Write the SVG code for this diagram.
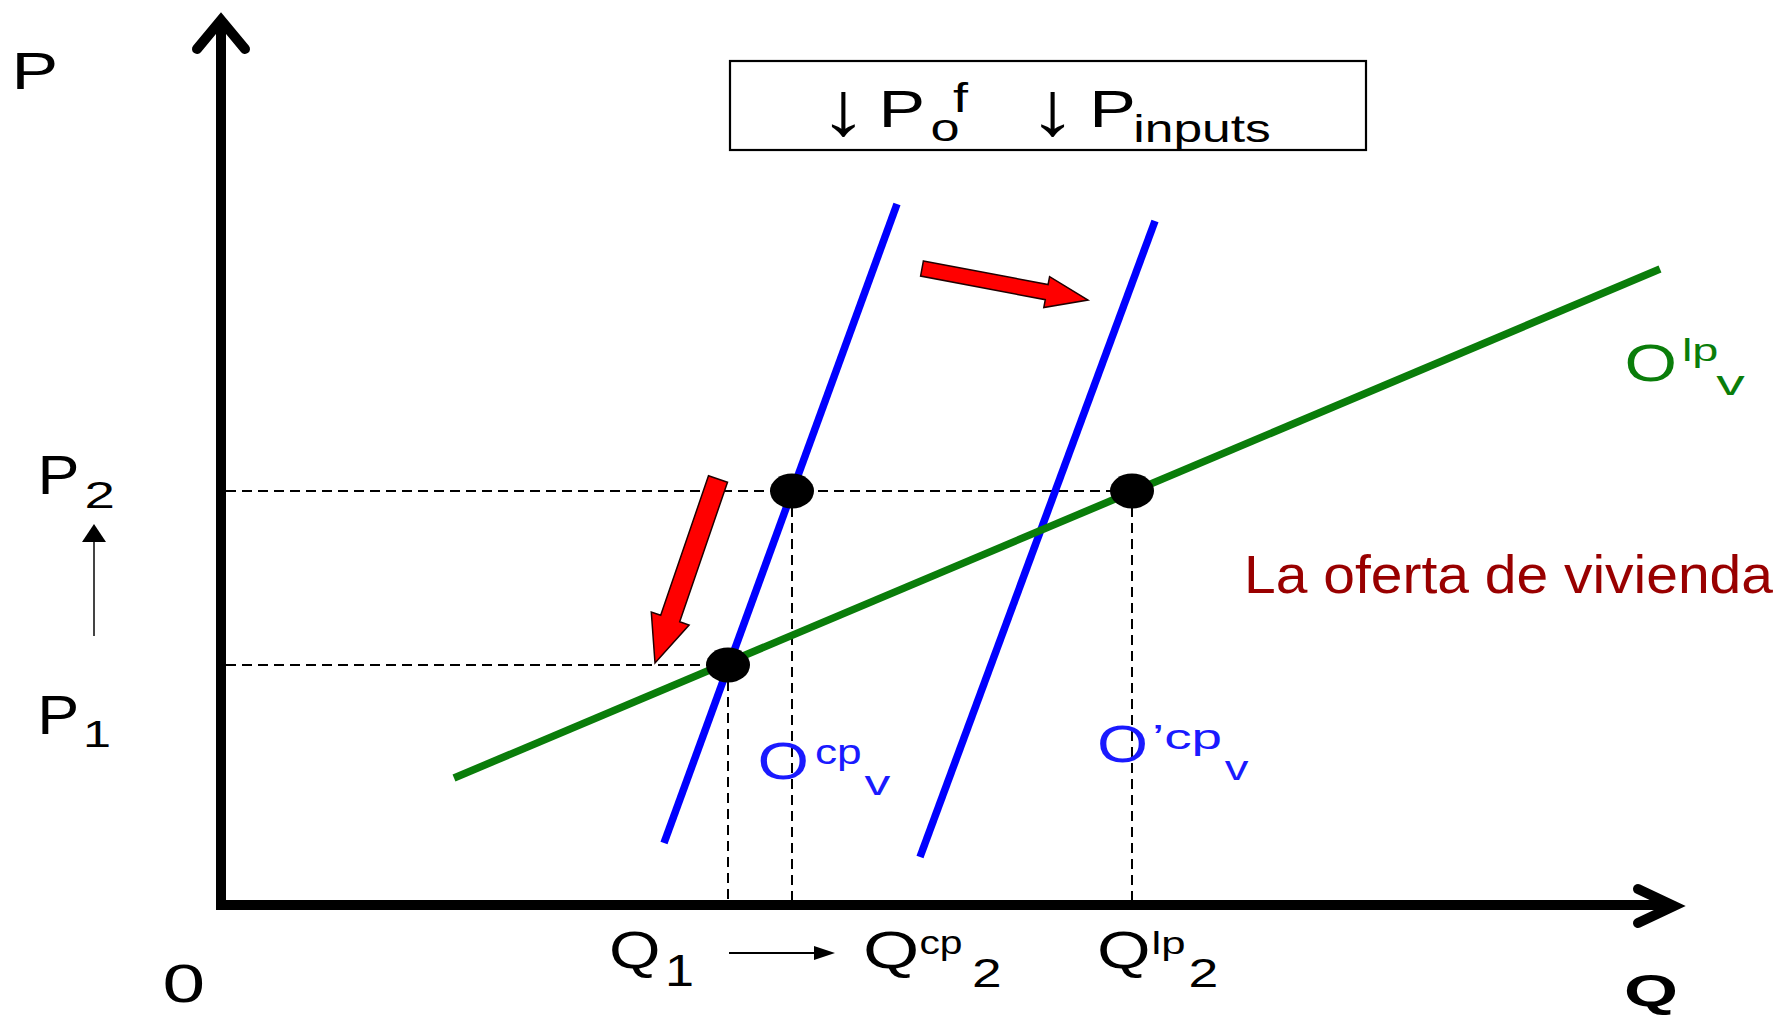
<svg xmlns="http://www.w3.org/2000/svg" width="1781" height="1017" viewBox="0 0 1781 1017">
<style>
  text { font-family: "Liberation Sans", Arial, sans-serif; }
  .k { fill: #000; }
  .b { fill: #1a1aff; }
  .g { fill: #0a7d0a; }
  .r { fill: #990000; }
  .axis { stroke: #000; stroke-width: 10; fill: none; }
  .dash { stroke: #000; stroke-width: 2; stroke-dasharray: 10 6; fill: none; }
  .blue { stroke: #0000ff; stroke-width: 7.5; fill: none; }
  .green { stroke: #0a7d0a; stroke-width: 7.5; fill: none; }
  .dot { fill: #000; }
  .red { fill: #ff0000; stroke: #200000; stroke-width: 1.5; stroke-linejoin: miter; }
  .thin { stroke: #000; stroke-width: 2.2; fill: none; }
</style>

<g id="axes">
  <path class="axis" d="M221,905 L221,24" />
  <path class="axis" d="M197,49 L221,20 L245,49" stroke-linejoin="miter" stroke-linecap="round" />
  <path class="axis" d="M216,905 L1672,905" />
  <path class="axis" d="M1638,889 L1674,906 L1638,923" stroke-linejoin="miter" stroke-linecap="round" />
</g>

<g id="connectors">
  <path class="dash" d="M226,491 L1132,491" />
  <path class="dash" d="M226,665 L728,665" />
  <path class="dash" d="M728,665 L728,900" />
  <path class="dash" d="M792,491 L792,900" />
  <path class="dash" d="M1132,491 L1132,900" />
</g>

<g id="curves">
  <line id="ocp" class="blue" x1="897" y1="204" x2="664" y2="843" />
  <line id="ocp2" class="blue" x1="1155" y1="221" x2="920" y2="857" />
  <line id="olp" class="green" x1="454" y1="778" x2="1660" y2="269" />
</g>

<g id="points">
  <ellipse class="dot" cx="792" cy="491" rx="22" ry="17.5" />
  <ellipse class="dot" cx="1132" cy="491" rx="22" ry="17.5" />
  <ellipse class="dot" cx="728" cy="665" rx="22" ry="17.5" />
</g>

<g id="shift-arrows">
  <polygon class="red" points="923.4,260.9 1048.1,284.5 1049.6,276.6 1088,300 1043.8,307.6 1045.3,299.7 920.6,276.1" />
  <polygon class="red" points="708.5,475.8 660.7,615.3 651.3,612 655,663 689.1,625 679.7,621.7 727.5,482.2" />
</g>

<g id="small-arrows">
  <path d="M94,636 L94,540" stroke="#444" stroke-width="2" fill="none" />
  <polygon points="94,524 82,542 106,542" fill="#000" />
  <path class="thin" d="M729,953 L816,953" />
  <polygon points="835,953 814,946 814,960" fill="#000" />
</g>

<g id="box">
  <rect x="730" y="61" width="636" height="89" fill="none" stroke="#000" stroke-width="2.2" />
  <text class="k" x="819.3" y="134.7" font-size="76" textLength="48.8" lengthAdjust="spacingAndGlyphs">↓</text>
  <text class="k" x="878.6" y="126.7" font-size="51" textLength="46.7" lengthAdjust="spacingAndGlyphs">P</text>
  <text class="k" x="930.6" y="141" font-size="39" textLength="29.1" lengthAdjust="spacingAndGlyphs">o</text>
  <text class="k" x="953" y="111.7" font-size="41" textLength="15" lengthAdjust="spacingAndGlyphs">f</text>
  <text class="k" x="1028.5" y="134.7" font-size="76" textLength="48.8" lengthAdjust="spacingAndGlyphs">↓</text>
  <text class="k" x="1089.2" y="126.7" font-size="51" textLength="46.7" lengthAdjust="spacingAndGlyphs">P</text>
  <text class="k" x="1133.3" y="141.7" font-size="38.5" textLength="137.6" lengthAdjust="spacingAndGlyphs">inputs</text>
</g>

<g id="label-P">
  <text class="k" x="11.6" y="89" font-size="52" textLength="46.7" lengthAdjust="spacingAndGlyphs">P</text>
</g>
<g id="label-P2">
  <text class="k" x="37.5" y="494" font-size="55" textLength="42" lengthAdjust="spacingAndGlyphs">P</text>
  <text class="k" x="84.4" y="508" font-size="36" textLength="30.4" lengthAdjust="spacingAndGlyphs">2</text>
</g>
<g id="label-P1">
  <text class="k" x="37.2" y="734" font-size="55" textLength="42" lengthAdjust="spacingAndGlyphs">P</text>
  <text class="k" x="83" y="747" font-size="36" textLength="28" lengthAdjust="spacingAndGlyphs">1</text>
</g>
<g id="label-0">
  <text class="k" x="162.6" y="1002" font-size="54" textLength="42.6" lengthAdjust="spacingAndGlyphs">0</text>
</g>
<g id="label-Q1">
  <text class="k" x="609" y="968" font-size="52" textLength="51.5" lengthAdjust="spacingAndGlyphs">Q</text>
  <text class="k" x="665" y="986" font-size="44" textLength="29" lengthAdjust="spacingAndGlyphs">1</text>
</g>
<g id="label-Qcp2">
  <text class="k" x="863.1" y="968" font-size="52" textLength="56.3" lengthAdjust="spacingAndGlyphs">Q</text>
  <text class="k" x="919.4" y="954" font-size="33" textLength="43.1" lengthAdjust="spacingAndGlyphs">cp</text>
  <text class="k" x="971.9" y="986.7" font-size="40" textLength="29.6" lengthAdjust="spacingAndGlyphs">2</text>
</g>
<g id="label-Qlp2">
  <text class="k" x="1097" y="968" font-size="52" textLength="53.6" lengthAdjust="spacingAndGlyphs">Q</text>
  <text class="k" x="1151.6" y="954" font-size="31" textLength="34" lengthAdjust="spacingAndGlyphs">lp</text>
  <text class="k" x="1188.4" y="986.7" font-size="40" textLength="29.8" lengthAdjust="spacingAndGlyphs">2</text>
</g>
<g id="label-Q">
  <text class="k" x="1624" y="1006" font-size="44" font-weight="bold" textLength="54" lengthAdjust="spacingAndGlyphs">Q</text>
</g>
<g id="label-Ocp">
  <text class="b" x="757.5" y="779" font-size="52" textLength="51.5" lengthAdjust="spacingAndGlyphs">O</text>
  <text class="b" x="814.9" y="764" font-size="35" textLength="46.7" lengthAdjust="spacingAndGlyphs">cp</text>
  <text class="b" x="864.6" y="795" font-size="35" textLength="25.8" lengthAdjust="spacingAndGlyphs">v</text>
</g>
<g id="label-Ocp2">
  <text class="b" x="1096.9" y="762" font-size="52" textLength="51.1" lengthAdjust="spacingAndGlyphs">O</text>
  <text class="b" x="1152" y="749" font-size="35" textLength="70" lengthAdjust="spacingAndGlyphs">’cp</text>
  <text class="b" x="1224.7" y="780" font-size="35" textLength="23.7" lengthAdjust="spacingAndGlyphs">v</text>
</g>
<g id="label-Olp">
  <text class="g" x="1624.6" y="381" font-size="52" textLength="52.5" lengthAdjust="spacingAndGlyphs">O</text>
  <text class="g" x="1681.9" y="361" font-size="31" textLength="36.5" lengthAdjust="spacingAndGlyphs">lp</text>
  <text class="g" x="1716.3" y="395" font-size="35" textLength="28.5" lengthAdjust="spacingAndGlyphs">v</text>
</g>
<g id="label-oferta">
  <text class="r" x="1244" y="593" font-size="53" textLength="529" lengthAdjust="spacingAndGlyphs">La oferta de vivienda</text>
</g>
</svg>
